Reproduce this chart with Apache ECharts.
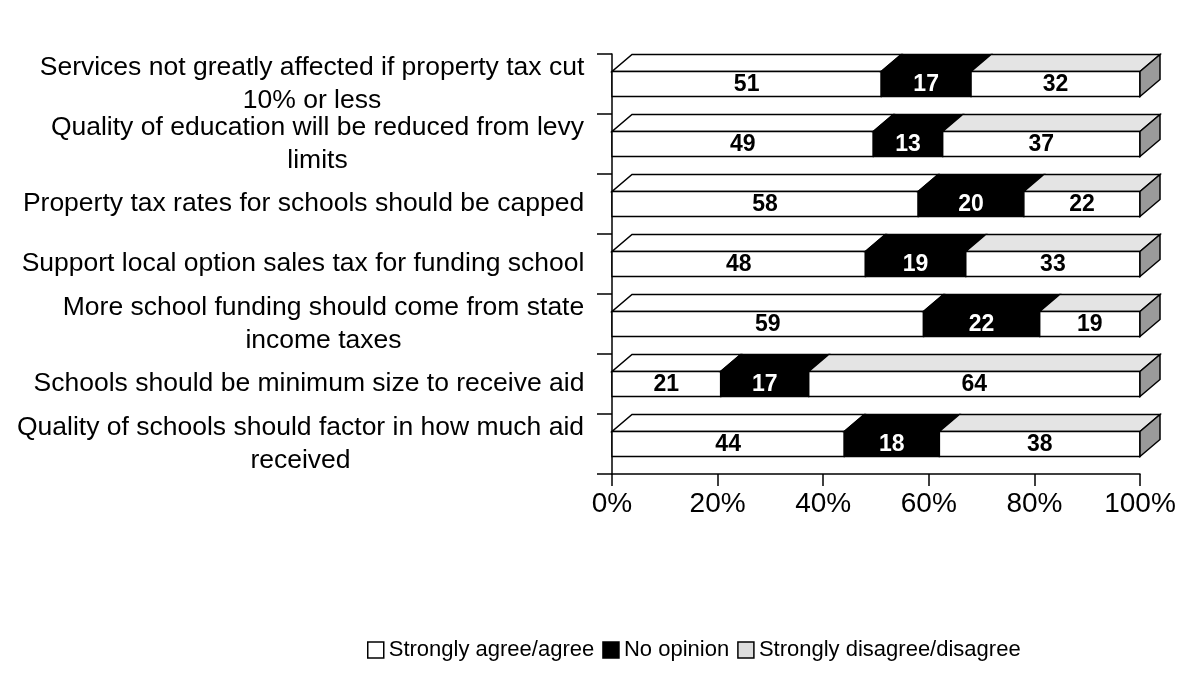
<!DOCTYPE html>
<html>
<head>
<meta charset="utf-8">
<script src="https://cdn.jsdelivr.net/npm/echarts@6/dist/echarts.min.js"></script>
<style>
  html, body { margin: 0; padding: 0; background: #fff; }
  #chart { width: 1187px; height: 689px; }
</style>
</head>
<body>
<div id="chart"></div>
<script>
var categories = [
    "Services not greatly affected if property tax cut\n10% or less",
    "Quality of education will be reduced from levy\nlimits",
    "Property tax rates for schools should be capped",
    "Support local option sales tax for funding school",
    "More school funding should come from state\nincome taxes",
    "Schools should be minimum size to receive aid",
    "Quality of schools should factor in how much aid\nreceived"
];
var agree = [51, 49, 58, 48, 59, 21, 44];
var noOpinion = [17, 13, 20, 19, 22, 17, 18];
var disagree = [32, 37, 22, 33, 19, 64, 38];
var seriesNames = ["Strongly agree/agree", "No opinion", "Strongly disagree/disagree"];
var xTicks = [0, 20, 40, 60, 80, 100];

var FONT = "'Liberation Sans', Arial, sans-serif";
var LABEL_SIZE = 26.5;
var groups = [agree, noOpinion, disagree];
var faceFill = ["#ffffff", "#000000", "#ffffff"];
var topFill = ["#ffffff", "#000000", "#e4e4e4"];
var textFill = ["#000000", "#ffffff", "#000000"];

// percent-stacked segments: [start, end, category index, raw value]
function buildSegments(s) {
    var out = [];
    for (var i = 0; i < categories.length; i++) {
        var total = agree[i] + noOpinion[i] + disagree[i];
        var before = 0;
        for (var k = 0; k < s; k++) before += groups[k][i];
        var start = before / total * 100;
        var end = (before + groups[s][i]) / total * 100;
        out.push([start, end, i, groups[s][i]]);
    }
    return out;
}

// each label block is right aligned, its lines centred inside it
var ctx = document.createElement("canvas").getContext("2d");
ctx.font = LABEL_SIZE + "px " + FONT;
var labelRich = {};
for (var i = 0; i < categories.length; i++) {
    var w = 0;
    categories[i].split("\n").forEach(function(l) {
        w = Math.max(w, ctx.measureText(l).width);
    });
    labelRich["c" + i] = {
        width: Math.ceil(w) + 1,
        align: "center",
        fontSize: LABEL_SIZE,
        lineHeight: 33,
        fontFamily: FONT,
        color: "#000"
    };
}

function makeRender(s) {
    return function(params, api) {
        var p0 = api.coord([api.value(0), api.value(2)]);
        var p1 = api.coord([api.value(1), api.value(2)]);
        var h = 25, dx = 20, dy = 17;
        var yT = p0[1] - h / 2, yB = p0[1] + h / 2;
        var x0 = p0[0], x1 = p1[0];
        var kids = [
            {
                type: "polygon",
                shape: { points: [[x0, yT], [x1, yT], [x1 + dx, yT - dy], [x0 + dx, yT - dy]] },
                style: { fill: topFill[s], stroke: "#000", lineWidth: 1.5 }
            },
            {
                type: "rect",
                shape: { x: x0, y: yT, width: x1 - x0, height: h },
                style: { fill: faceFill[s], stroke: "#000", lineWidth: 1.5 }
            }
        ];
        if (s === 2) {
            kids.push({
                type: "polygon",
                shape: { points: [[x1, yT], [x1 + dx, yT - dy], [x1 + dx, yB - dy], [x1, yB]] },
                style: { fill: "#9a9a9a", stroke: "#000", lineWidth: 1.5 }
            });
        }
        kids.push({
            type: "text",
            style: {
                text: String(api.value(3)),
                x: (x0 + x1) / 2,
                y: p0[1] + 1,
                align: "center",
                verticalAlign: "middle",
                fill: textFill[s],
                fontSize: 23,
                fontWeight: "bold",
                fontFamily: FONT
            }
        });
        return { type: "group", children: kids };
    };
}

var chart = echarts.init(document.getElementById("chart"));
var series = [];
for (var s = 0; s < 3; s++) {
    series.push({
        type: "custom",
        name: seriesNames[s],
        renderItem: makeRender(s),
        encode: { x: [0, 1], y: 2 },
        itemStyle: { color: ["#ffffff", "#000000", "#dcdcdc"][s], borderColor: "#000", borderWidth: 1.5 },
        data: buildSegments(s)
    });
}

chart.setOption({
    animation: false,
    backgroundColor: "#fff",
    textStyle: { fontFamily: FONT, color: "#000" },
    grid: { left: 612, right: 47, top: 54, bottom: 215 },
    xAxis: {
        type: "value",
        min: 0,
        max: 100,
        interval: 20,
        splitLine: { show: false },
        axisLine: { show: true, lineStyle: { color: "#000", width: 1.5 } },
        axisTick: { show: true, length: 12, lineStyle: { color: "#000", width: 1.5 } },
        axisLabel: {
            margin: 16,
            fontSize: 28,
            color: "#000",
            fontFamily: FONT,
            formatter: function(v) { return xTicks.indexOf(v) >= 0 ? v + "%" : ""; }
        }
    },
    yAxis: {
        type: "category",
        inverse: true,
        data: categories,
        axisLine: { show: true, lineStyle: { color: "#000", width: 1.5 } },
        axisTick: { show: true, length: 15, lineStyle: { color: "#000", width: 1.5 } },
        axisLabel: {
            interval: 0,
            margin: 27,
            fontSize: LABEL_SIZE,
            lineHeight: 33,
            color: "#000",
            align: "right",
            fontFamily: FONT,
            rich: labelRich,
            formatter: function(value, idx) {
                return value.split("\n").map(function(l) {
                    return "{c" + idx + "|" + l + "}";
                }).join("\n");
            }
        }
    },
    legend: {
        top: 634,
        left: 362,
        itemWidth: 16,
        itemHeight: 16,
        itemGap: 8,
        textStyle: { fontSize: 22, color: "#000", fontFamily: FONT },
        data: [
            { name: seriesNames[0], icon: "rect", itemStyle: { color: "#fff", borderColor: "#000", borderWidth: 1.5 } },
            { name: seriesNames[1], icon: "rect", itemStyle: { color: "#000", borderColor: "#000", borderWidth: 1.5 } },
            { name: seriesNames[2], icon: "rect", itemStyle: { color: "#dcdcdc", borderColor: "#000", borderWidth: 1.5 } }
        ]
    },
    series: series
});
</script>
</body>
</html>
